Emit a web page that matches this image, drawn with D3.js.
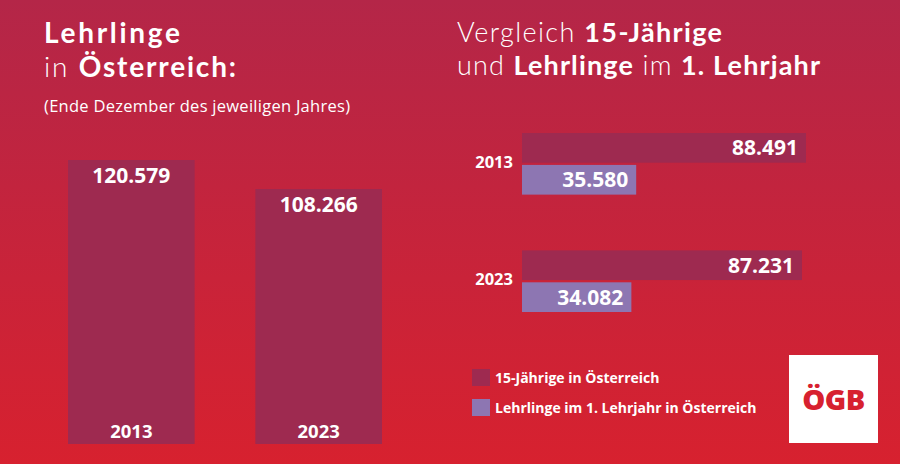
<!DOCTYPE html>
<html><head><meta charset="utf-8">
<script src="https://cdn.jsdelivr.net/npm/d3@7"></script>
<style>
html,body{margin:0;padding:0;}
svg{display:block;font-family:"Open Sans",sans-serif;}
.ttl{font-family:Lato,"Open Sans",sans-serif;}
</style></head>
<body>
<svg id="c" width="900" height="464"></svg>
<script>
const years = ["2013", "2023"];
const lehrlingeTotal = [120579, 108266];
const fuenfzehnJaehrige = [88491, 87231];
const lehrlingeErstesJahr = [35580, 34082];
const seriesNames = ["15-Jährige in Österreich", "Lehrlinge im 1. Lehrjahr in Österreich"];

const fmt = v => d3.format(",")(v).replace(/,/g, ".");
const svg = d3.select("#c");
const W = 900, H = 464;
const barCol = "#9e2a50", purpleCol = "#8d76b2";

const defs = svg.append("defs");
const g = defs.append("linearGradient").attr("id","bg").attr("x1",0).attr("y1",0).attr("x2",0).attr("y2",1);
g.append("stop").attr("offset","0%").attr("stop-color","#b42648");
g.append("stop").attr("offset","100%").attr("stop-color","#d7212f");
svg.append("rect").attr("width",W).attr("height",H).attr("fill","url(#bg)");

// Left titles
svg.append("text").attr("class","ttl").attr("x",44).attr("y",43).attr("fill","#fff").attr("font-size",28).attr("font-weight",700)
  .attr("textLength",136).attr("lengthAdjust","spacing").text("Lehrlinge");
const t2 = svg.append("text").attr("class","ttl").attr("x",44).attr("y",77).attr("fill","#fff").attr("font-size",28)
  .attr("textLength",192).attr("lengthAdjust","spacing");
t2.append("tspan").attr("font-weight",300).text("in ");
t2.append("tspan").attr("font-weight",700).text("Österreich:");
svg.append("text").attr("x",44).attr("y",112).attr("fill","#fff").attr("font-size",16.5).attr("textLength",306).attr("lengthAdjust","spacing").text("(Ende Dezember des jeweiligen Jahres)");

// Left bar chart
const xL = d3.scaleBand().domain(years).range([68, 382]).paddingInner(0.324).paddingOuter(0);
const yL = d3.scaleLinear().domain([0, 120579]).range([444, 160]);
const lg = svg.append("g");
lg.selectAll("rect").data(years).join("rect")
  .attr("x", d => xL(d)).attr("width", xL.bandwidth())
  .attr("y", (d,i) => yL(lehrlingeTotal[i])).attr("height", (d,i) => yL(0) - yL(lehrlingeTotal[i]))
  .attr("fill", barCol);
lg.selectAll("text.v").data(years).join("text").attr("class","v")
  .attr("x", d => xL(d) + xL.bandwidth()/2).attr("y", (d,i) => yL(lehrlingeTotal[i]) + 23)
  .attr("text-anchor","middle").attr("fill","#fff").attr("font-size",21).attr("font-weight",700)
  .text((d,i) => fmt(lehrlingeTotal[i]));
lg.selectAll("text.y").data(years).join("text").attr("class","y")
  .attr("x", d => xL(d) + xL.bandwidth()/2).attr("y", 438)
  .attr("text-anchor","middle").attr("fill","#fff").attr("font-size",18.5).attr("font-weight",700)
  .text(d => d);

// Right title
const r1 = svg.append("text").attr("class","ttl").attr("x",457).attr("y",42).attr("fill","#fff").attr("font-size",27).attr("textLength",265).attr("lengthAdjust","spacing");
r1.append("tspan").attr("font-weight",300).text("Vergleich ");
r1.append("tspan").attr("font-weight",700).text("15-Jährige");
const r2 = svg.append("text").attr("class","ttl").attr("x",457).attr("y",75).attr("fill","#fff").attr("font-size",27).attr("textLength",363).attr("lengthAdjust","spacing");
r2.append("tspan").attr("font-weight",300).text("und ");
r2.append("tspan").attr("font-weight",700).text("Lehrlinge");
r2.append("tspan").attr("font-weight",300).text(" im ");
r2.append("tspan").attr("font-weight",700).text("1. Lehrjahr");

// Right grouped horizontal bars
const xR = d3.scaleLinear().domain([0, 88491]).range([522, 806]);
const yR = d3.scaleBand().domain(years).range([133, 312]).paddingInner(0.475).paddingOuter(0);
const inner = d3.scaleBand().domain([0,1]).range([0, yR.bandwidth()]).paddingInner(0.07);
const rg = svg.append("g");
years.forEach((yr, i) => {
  const vals = [fuenfzehnJaehrige[i], lehrlingeErstesJahr[i]];
  const cols = [barCol, purpleCol];
  vals.forEach((v, j) => {
    const y0 = yR(yr) + inner(j);
    rg.append("rect").attr("x", xR(0)).attr("y", y0).attr("width", xR(v) - xR(0)).attr("height", inner.bandwidth()).attr("fill", cols[j]);
    rg.append("text").attr("x", xR(v) - 8).attr("y", y0 + inner.bandwidth()/2 + 7.5)
      .attr("text-anchor","end").attr("fill","#fff").attr("font-size",21).attr("font-weight",700).text(fmt(v));
  });
  rg.append("text").attr("x", 513).attr("y", yR(yr) + yR.bandwidth()/2 + 4)
    .attr("text-anchor","end").attr("fill","#fff").attr("font-size",16.5).attr("font-weight",700).text(yr);
});

// Legend
const leg = svg.append("g");
seriesNames.forEach((n, i) => {
  leg.append("rect").attr("x",472).attr("y",369 + i*30).attr("width",18).attr("height",17).attr("fill",[barCol,purpleCol][i]);
  leg.append("text").attr("x",495).attr("y",383 + i*30).attr("fill","#fff").attr("font-size",14).attr("font-weight",700).text(n);
});

// Logo
svg.append("rect").attr("x",789).attr("y",355).attr("width",89).attr("height",88).attr("fill","#fff");
svg.append("text").attr("x",833.5).attr("y",410).attr("text-anchor","middle").attr("fill","#d7212f").attr("font-size",29).attr("font-weight",800).attr("letter-spacing",-0.5).text("ÖGB");
</script>
</body></html>
